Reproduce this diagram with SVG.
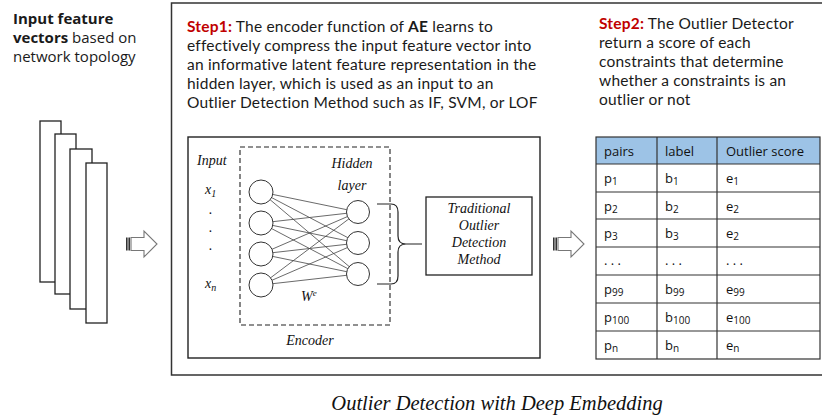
<svg xmlns="http://www.w3.org/2000/svg" width="822" height="417" viewBox="0 0 822 417">
  <style>
    .sans { font-family: "Open Sans", "Noto Sans", sans-serif; fill: #1a1a1a; }
    .step { font-family: Lato, "Open Sans", sans-serif; font-size: 15.5px; letter-spacing: 0.2px; fill: #1a1a1a; }
    .red { fill: #C00000; font-weight: bold; }
    .serif { font-family: "Liberation Serif", "DejaVu Serif", serif; font-style: italic; fill: #111; }
    .tbl { font-family: "Open Sans", "Liberation Sans", sans-serif; font-size: 13px; fill: #111; }
    .sub { font-size: 10px; }
    .box { fill: #fff; stroke: #222; stroke-width: 1.3; }
    .node { fill: #fff; stroke: #333; stroke-width: 1; }
    .edge { stroke: #444; stroke-width: 0.8; }
    .grid { stroke: #333; stroke-width: 1.2; }
    .arrow { fill: #fff; stroke: #777; stroke-width: 1.1; }
  </style>
  <defs>
    <g id="striped-arrow">
      <rect x="0" y="-6.5" width="1.6" height="13" fill="#333"/>
      <rect x="2.4" y="-6.5" width="1.6" height="13" fill="#333"/>
      <polygon class="arrow" points="5,-6.5 18,-6.5 18,-13 31,0 18,13 18,6.5 5,6.5"/>
    </g>
  </defs>

  <rect width="822" height="417" fill="#fff"/>

  <!-- outer frame (open on the right) -->
  <path d="M830,3 H171.5 V375 H830" fill="none" stroke="#333" stroke-width="1.5"/>

  <!-- input vectors -->
  <g id="input-vectors">
    <text class="sans" x="13" y="24" font-size="15"><tspan font-weight="bold">Input feature</tspan></text>
    <text class="sans" x="13" y="43" font-size="15"><tspan font-weight="bold">vectors</tspan> based on</text>
    <text class="sans" x="13" y="62" font-size="15">network topology</text>
    <rect class="box" x="40" y="121" width="21" height="161"/>
    <rect class="box" x="55" y="134" width="21" height="160"/>
    <rect class="box" x="70" y="149" width="22" height="160"/>
    <rect class="box" x="86" y="163" width="21" height="160"/>
  </g>

  <!-- step descriptions -->
  <g id="step1">
    <text class="step" x="187" y="32"><tspan class="red">Step1:</tspan> The encoder function of <tspan font-weight="bold">AE</tspan> learns to</text>
    <text class="step" x="187" y="51">effectively compress the input feature vector into</text>
    <text class="step" x="187" y="70">an informative latent feature representation in the</text>
    <text class="step" x="187" y="89">hidden layer, which is used as an input to an</text>
    <text class="step" x="187" y="108">Outlier Detection Method such as IF, SVM, or LOF</text>
  </g>
  <g id="step2">
    <text class="step" x="599" y="29"><tspan class="red">Step2:</tspan> The Outlier Detector</text>
    <text class="step" x="599" y="48">return a score of each</text>
    <text class="step" x="599" y="67">constraints that determine</text>
    <text class="step" x="599" y="86">whether a constraints is an</text>
    <text class="step" x="599" y="105">outlier or not</text>
  </g>

  <!-- encoder panel -->
  <g id="encoder">
    <rect x="188" y="137" width="352" height="221" fill="#fff" stroke="#222" stroke-width="1.4"/>
    <rect x="240" y="147" width="150" height="178" fill="none" stroke="#222" stroke-width="1.1" stroke-dasharray="5,3"/>
    <text class="serif" x="197" y="165" font-size="14">Input</text>
    <text class="serif" x="205" y="194" font-size="14">x<tspan font-size="10" dy="3">1</tspan></text>
    <text class="serif" x="209" y="214" font-size="14">.</text>
    <text class="serif" x="209" y="232" font-size="14">.</text>
    <text class="serif" x="209" y="250" font-size="14">.</text>
    <text class="serif" x="205" y="288" font-size="14">x<tspan font-size="10" dy="3">n</tspan></text>
    <text class="serif" x="352" y="168" font-size="14" text-anchor="middle">Hidden</text>
    <text class="serif" x="352" y="190" font-size="14" text-anchor="middle">layer</text>
    <text class="serif" x="301" y="301" font-size="14">W<tspan font-size="9" dy="-5">e</tspan></text>
    <text class="serif" x="310" y="345" font-size="14" text-anchor="middle">Encoder</text>
  </g>

  <!-- network weights -->
  <g id="connectors">
    <g class="edge">
      <line x1="261" y1="192" x2="358" y2="212"/>
      <line x1="261" y1="192" x2="358" y2="243"/>
      <line x1="261" y1="192" x2="358" y2="274"/>
      <line x1="261" y1="223" x2="358" y2="212"/>
      <line x1="261" y1="223" x2="358" y2="243"/>
      <line x1="261" y1="223" x2="358" y2="274"/>
      <line x1="261" y1="254" x2="358" y2="212"/>
      <line x1="261" y1="254" x2="358" y2="243"/>
      <line x1="261" y1="254" x2="358" y2="274"/>
      <line x1="261" y1="285" x2="358" y2="212"/>
      <line x1="261" y1="285" x2="358" y2="243"/>
      <line x1="261" y1="285" x2="358" y2="274"/>
    </g>
    <!-- brace from hidden layer to detector -->
    <path d="M377,204 H391 Q398,204 398,212 V236 Q398,244 406,244 H422 M406,244 Q398,244 398,252 V276 Q398,284 391,284 H377" fill="none" stroke="#222" stroke-width="1.2"/>
    <use href="#striped-arrow" x="126" y="244"/>
    <use href="#striped-arrow" x="553" y="244"/>
  </g>

  <g id="input-layer">
    <circle class="node" cx="261" cy="192" r="12"/>
    <circle class="node" cx="261" cy="223" r="12"/>
    <circle class="node" cx="261" cy="254" r="12"/>
    <circle class="node" cx="261" cy="285" r="12"/>
  </g>
  <g id="hidden-layer">
    <circle class="node" cx="358" cy="212" r="11.5"/>
    <circle class="node" cx="358" cy="243" r="11.5"/>
    <circle class="node" cx="358" cy="274" r="11.5"/>
  </g>

  <g id="detector">
    <rect x="426" y="197" width="106" height="78" fill="#fff" stroke="#222" stroke-width="1.3"/>
    <text class="serif" x="479" y="213" font-size="14" text-anchor="middle">Traditional</text>
    <text class="serif" x="479" y="230" font-size="14" text-anchor="middle">Outlier</text>
    <text class="serif" x="479" y="247" font-size="14" text-anchor="middle">Detection</text>
    <text class="serif" x="479" y="264" font-size="14" text-anchor="middle">Method</text>
  </g>

  <!-- score table -->
  <g id="score-table">
    <rect x="596" y="137" width="224" height="27" fill="#9DC3E6"/>
    <g class="grid">
      <rect x="596" y="137" width="224" height="222" fill="none"/>
      <line x1="596" y1="164" x2="820" y2="164"/>
      <line x1="596" y1="192" x2="820" y2="192"/>
      <line x1="596" y1="219" x2="820" y2="219"/>
      <line x1="596" y1="247" x2="820" y2="247"/>
      <line x1="596" y1="275" x2="820" y2="275"/>
      <line x1="596" y1="303" x2="820" y2="303"/>
      <line x1="596" y1="331" x2="820" y2="331"/>
      <line x1="657" y1="137" x2="657" y2="359"/>
      <line x1="717" y1="137" x2="717" y2="359"/>
    </g>
    <text class="tbl" x="604" y="156">pairs</text>
    <text class="tbl" x="665" y="156">label</text>
    <text class="tbl" x="726" y="156">Outlier score</text>

    <text class="tbl" x="604" y="183">p<tspan class="sub" dy="2">1</tspan></text>
    <text class="tbl" x="665" y="183">b<tspan class="sub" dy="2">1</tspan></text>
    <text class="tbl" x="726" y="183">e<tspan class="sub" dy="2">1</tspan></text>

    <text class="tbl" x="604" y="211">p<tspan class="sub" dy="2">2</tspan></text>
    <text class="tbl" x="665" y="211">b<tspan class="sub" dy="2">2</tspan></text>
    <text class="tbl" x="726" y="211">e<tspan class="sub" dy="2">2</tspan></text>

    <text class="tbl" x="604" y="238">p<tspan class="sub" dy="2">3</tspan></text>
    <text class="tbl" x="665" y="238">b<tspan class="sub" dy="2">3</tspan></text>
    <text class="tbl" x="726" y="238">e<tspan class="sub" dy="2">2</tspan></text>

    <text class="tbl" x="604" y="265">. . .</text>
    <text class="tbl" x="665" y="265">. . .</text>
    <text class="tbl" x="726" y="265">. . .</text>

    <text class="tbl" x="604" y="294">p<tspan class="sub" dy="2">99</tspan></text>
    <text class="tbl" x="665" y="294">b<tspan class="sub" dy="2">99</tspan></text>
    <text class="tbl" x="726" y="294">e<tspan class="sub" dy="2">99</tspan></text>

    <text class="tbl" x="604" y="322">p<tspan class="sub" dy="2">100</tspan></text>
    <text class="tbl" x="665" y="322">b<tspan class="sub" dy="2">100</tspan></text>
    <text class="tbl" x="726" y="322">e<tspan class="sub" dy="2">100</tspan></text>

    <text class="tbl" x="604" y="350">p<tspan class="sub" dy="2">n</tspan></text>
    <text class="tbl" x="665" y="350">b<tspan class="sub" dy="2">n</tspan></text>
    <text class="tbl" x="726" y="350">e<tspan class="sub" dy="2">n</tspan></text>
  </g>

  <text class="serif" x="497" y="410" font-size="20.5" text-anchor="middle">Outlier Detection with Deep Embedding</text>
</svg>
